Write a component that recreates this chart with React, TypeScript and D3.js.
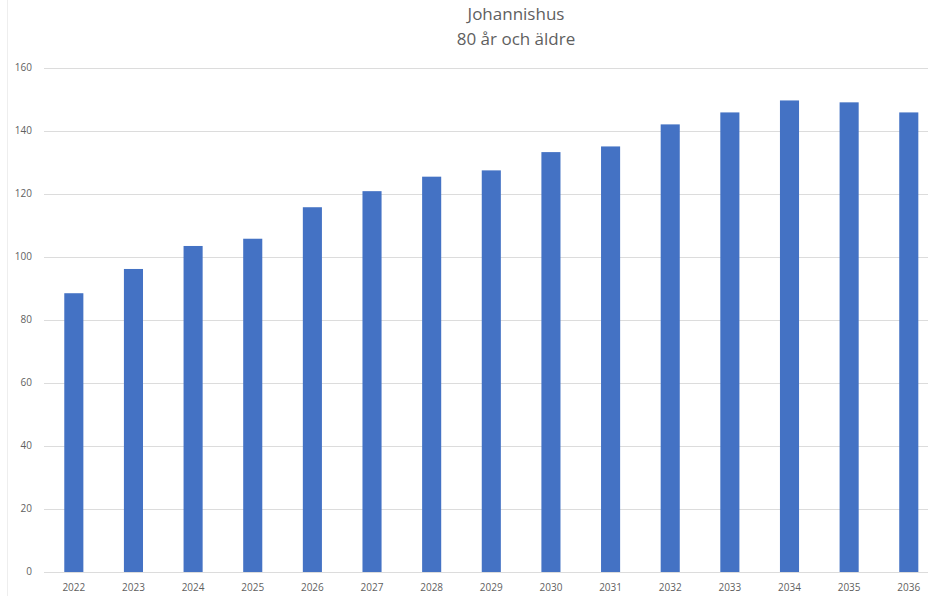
import { useEffect, useRef } from 'react';
import * as d3 from 'd3';

// values
const years = ['2022', '2023', '2024', '2025', '2026', '2027', '2028', '2029', '2030', '2031', '2032', '2033', '2034', '2035', '2036'];
const values = [88.5, 96.2, 103.5, 105.8, 115.8, 120.9, 125.5, 127.5, 133.3, 135.1, 142.1, 145.9, 149.7, 149.1, 145.9];
const yTicks = [0, 20, 40, 60, 80, 100, 120, 140, 160];
const titleLines = ['Johannishus', '80 år och äldre'];

export default function App() {
  const svgRef = useRef<SVGSVGElement>(null);
  const width = 928;
  const height = 596;

  useEffect(() => {
    if (!svgRef.current) return;
    document.body.style.margin = '0';

    const svg = d3.select(svgRef.current);
    svg.selectAll('*').remove();

    const font = "'Open Sans', 'Noto Sans', sans-serif";
    const textColor = '#5f5f5f';

    // faint frame line at the left edge
    svg.append('line')
      .attr('x1', 7.5).attr('x2', 7.5)
      .attr('y1', 0).attr('y2', height)
      .style('stroke', '#eeeeee')
      .style('stroke-width', 1);

    const x = d3.scaleBand()
      .domain(years)
      .range([44, 938.6])
      .paddingInner(0.68)
      .paddingOuter(0.34);

    const y = d3.scaleLinear()
      .domain([0, 160])
      .range([572, 68]);

    // gridlines
    svg.append('g')
      .selectAll('line')
      .data(yTicks)
      .join('line')
      .attr('x1', 44)
      .attr('x2', width)
      .attr('y1', d => Math.round(y(d)) + 0.5)
      .attr('y2', d => Math.round(y(d)) + 0.5)
      .style('stroke', '#dcdcdc')
      .style('stroke-width', 1);

    // y tick labels
    svg.append('g')
      .selectAll('text')
      .data(yTicks)
      .join('text')
      .attr('x', 32)
      .attr('y', d => y(d))
      .attr('text-anchor', 'end')
      .attr('dominant-baseline', 'middle')
      .attr('fill', textColor)
      .style('font-family', font)
      .style('font-size', '10px')
      .text(d => d);

    // bars
    svg.append('g')
      .selectAll('rect')
      .data(values)
      .join('rect')
      .attr('x', (d, i) => x(years[i])!)
      .attr('width', x.bandwidth())
      .attr('y', d => y(d))
      .attr('height', d => y(0) - y(d))
      .attr('fill', '#4472c4');

    // x labels
    svg.append('g')
      .selectAll('text')
      .data(years)
      .join('text')
      .attr('x', d => x(d)! + x.bandwidth() / 2)
      .attr('y', 588)
      .attr('text-anchor', 'middle')
      .attr('dominant-baseline', 'middle')
      .attr('fill', textColor)
      .style('font-family', font)
      .style('font-size', '10px')
      .text(d => d);

    // title
    svg.append('g')
      .selectAll('text')
      .data(titleLines)
      .join('text')
      .attr('x', 516)
      .attr('y', (d, i) => 15 + i * 25)
      .attr('text-anchor', 'middle')
      .attr('dominant-baseline', 'middle')
      .attr('fill', textColor)
      .style('font-family', font)
      .style('font-size', '17px')
      .text(d => d);
  }, []);

  return (
    <svg
      ref={svgRef}
      width={width}
      height={height}
      viewBox={`0 0 ${width} ${height}`}
      style={{ display: 'block', background: '#ffffff' }}
    />
  );
}
